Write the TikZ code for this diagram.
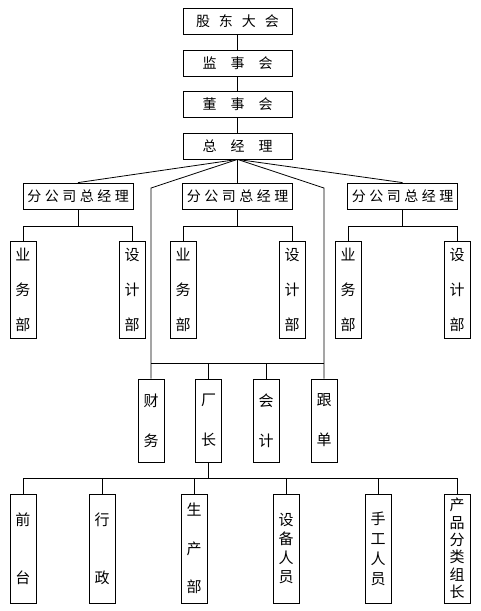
\documentclass[tikz,border=0pt]{standalone}
\usepackage{fontspec}
\newfontfamily\cjk{Noto Sans CJK SC}
\usetikzlibrary{calc}

\begin{document}
\begin{tikzpicture}[x=1pt, y=-1pt, line width=0.8pt,
  hbox/.style={draw, inner sep=0pt, minimum width=109pt, minimum height=26pt, font=\cjk\fontsize{14}{16}\selectfont},
  vbox/.style={draw, inner sep=0pt, minimum width=26pt, align=center, text width=16pt, font=\cjk\fontsize{15}{#1}\selectfont},
  vbox/.default=20]
\useasboundingbox (0,0) rectangle (481,611);
% top chain
\node[hbox] (gd) at (237.5,21) {股\hspace{9pt}东\hspace{9pt}大\hspace{9pt}会};
\node[hbox] (js) at (237.5,63) {监\hspace{14pt}事\hspace{14pt}会};
\node[hbox] (ds) at (237.5,104) {董\hspace{14pt}事\hspace{14pt}会};
\node[hbox] (zjl) at (237.5,146) {总\hspace{14pt}经\hspace{14pt}理};
% branch companies
\node[hbox, minimum width=110pt] (fgs1) at (78,196) {分\hspace{3.5pt}公\hspace{3.5pt}司\hspace{3.5pt}总\hspace{3.5pt}经\hspace{3.5pt}理};
\node[hbox, minimum width=110pt] (fgs2) at (237.5,196) {分\hspace{3.5pt}公\hspace{3.5pt}司\hspace{3.5pt}总\hspace{3.5pt}经\hspace{3.5pt}理};
\node[hbox, minimum width=110pt] (fgs3) at (402.5,196) {分\hspace{3.5pt}公\hspace{3.5pt}司\hspace{3.5pt}总\hspace{3.5pt}经\hspace{3.5pt}理};
\node[vbox=35, minimum height=97pt] (yw1) at (23,289.5) {业\\务\\部};
\node[vbox=35, minimum height=97pt] (sj1) at (132,289.5) {设\\计\\部};
\node[vbox=35, minimum height=97pt] (yw2) at (183,289.5) {业\\务\\部};
\node[vbox=35, minimum height=97pt] (sj2) at (292,289.5) {设\\计\\部};
\node[vbox=35, minimum height=97pt] (yw3) at (348,289.5) {业\\务\\部};
\node[vbox=35, minimum height=97pt] (sj3) at (457,289.5) {设\\计\\部};
% head office departments
\node[vbox=40, minimum height=83pt] (cw) at (151,420.5) {财\\务};
\node[vbox=40, minimum height=83pt] (cz) at (208.5,420.5) {厂\\长};
\node[vbox=40, minimum height=83pt] (kj) at (266,420.5) {会\\计};
\node[vbox=40, minimum height=83pt] (gdan) at (324,420.5) {跟\\单};
% factory
\node[vbox=58, minimum height=109pt] (qt) at (23,548.5) {前\\台};
\node[vbox=58, minimum height=109pt] (xz) at (102,548.5) {行\\政};
\node[vbox=38.5, minimum height=109pt] (scb) at (194,548.5) {生\\产\\部};
\node[vbox=19, minimum height=109pt] (sbry) at (286,548.5) {设\\备\\人\\员};
\node[vbox=20, minimum height=109pt] (sgry) at (378,548.5) {手\\工\\人\\员};
\node[vbox=17.4, minimum height=109pt] (cpzz) at (457,548.5) {产\\品\\分\\类\\组\\长};

\coordinate (kl) at (151,188);
\coordinate (kr) at (324,188);
\coordinate (bar1) at (0,363);
\coordinate (bar2) at (0,478);

\draw (gd) -- (js);
\draw (js) -- (ds);
\draw (ds) -- (zjl);
\draw (zjl.south) -- (fgs1.north);
\draw (zjl.south) -- (fgs2.north);
\draw (zjl.south) -- (fgs3.north);
\draw (zjl.south) -- (kl) -- (cw.north);
\draw (zjl.south) -- (kr) -- (gdan.north);
\foreach \i in {1,2,3} {
  \draw (fgs\i.south) -- ++(0,17) -| (yw\i.north);
  \draw (fgs\i.south) -- ++(0,17) -| (sj\i.north);
}
\draw (cw.north |- bar1) -- (gdan.north |- bar1);
\draw (cz.north |- bar1) -- (cz.north);
\draw (kj.north |- bar1) -- (kj.north);
\draw (cz.south) -- (cz.south |- bar2);
\draw (qt.north |- bar2) -- (cpzz.north |- bar2);
\foreach \n in {qt,xz,scb,sbry,sgry,cpzz}
  \draw (\n.north |- bar2) -- (\n.north);
\end{tikzpicture}
\end{document}
